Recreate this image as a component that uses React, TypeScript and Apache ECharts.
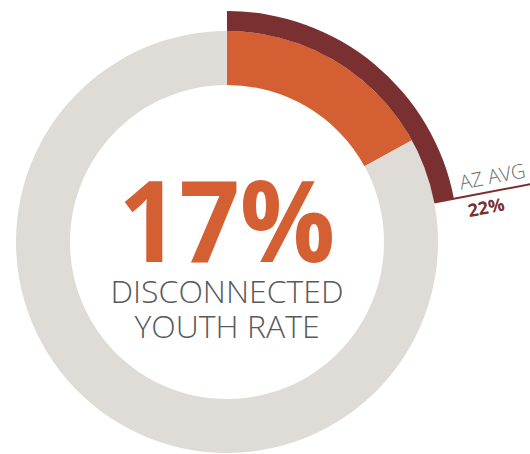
import React, { useEffect, useRef } from "react";
import * as echarts from "echarts";

const segmentNames = ["Disconnected youth", "Connected youth"];
const countyValues = [17, 83];
const avgValues = [22, 78];
const avgLabel = "AZ AVG";
const centerLines = ["DISCONNECTED", "YOUTH RATE"];

const ORANGE = "#d35f33";
const GREY = "#dfdcd7";
const DARK = "#7a2f30";
const TEXT = "#58595b";

export default function App() {
  const ref = useRef<HTMLDivElement>(null);
  useEffect(() => {
    const chart = echarts.init(ref.current!, undefined, { renderer: "svg" });
    const cx = 227;
    const cy = 242;
    const rIn = 157;
    const rOut = 211;
    const rAvg = 231;
    const total = avgValues[0] + avgValues[1];
    const deg = (avgValues[0] / total) * 360;
    const a = ((90 - deg) * Math.PI) / 180; // angle above horizontal
    const pt = (r: number, off: number) => [
      cx + r * Math.cos(a) - off * Math.sin(a),
      cy - r * Math.sin(a) - off * Math.cos(a),
    ];
    const p1 = pt(rOut, 0);
    const p2 = pt(330, 0);
    const tAvg = pt(273, 15);
    const tVal = pt(261, -14);

    chart.setOption({
      animation: false,
      series: [
        {
          type: "pie",
          center: [cx, cy],
          radius: [rIn, rOut],
          startAngle: 90,
          clockwise: true,
          silent: true,
          label: { show: false },
          labelLine: { show: false },
          itemStyle: { borderWidth: 0 },
          data: [
            { name: segmentNames[0], value: countyValues[0], itemStyle: { color: ORANGE } },
            { name: segmentNames[1], value: countyValues[1], itemStyle: { color: GREY } },
          ],
        },
        {
          type: "pie",
          center: [cx, cy],
          radius: [rOut, rAvg],
          startAngle: 90,
          clockwise: true,
          silent: true,
          label: { show: false },
          labelLine: { show: false },
          itemStyle: { borderWidth: 0 },
          data: [
            { name: avgLabel, value: avgValues[0], itemStyle: { color: DARK } },
            { name: "rest", value: avgValues[1], itemStyle: { color: "rgba(0,0,0,0)" } },
          ],
        },
      ],
      graphic: [
        {
          type: "line",
          shape: { x1: p1[0], y1: p1[1], x2: p2[0], y2: p2[1] },
          style: { stroke: DARK, lineWidth: 2 },
          silent: true,
        },
        {
          type: "text",
          x: tAvg[0],
          y: tAvg[1],
          rotation: a,
          style: {
            text: avgLabel,
            fill: "#6d6e71",
            font: '300 20px "Open Sans"',
            align: "center",
            verticalAlign: "middle",
          },
        },
        {
          type: "text",
          x: tVal[0],
          y: tVal[1],
          rotation: a,
          style: {
            text: `${avgValues[0]}%`,
            fill: DARK,
            font: 'bold 18px "Open Sans"',
            align: "center",
            verticalAlign: "middle",
          },
        },
        {
          type: "text",
          x: cx,
          y: 217,
          scaleX: 0.93,
          style: {
            text: `${countyValues[0]}%`,
            fill: ORANGE,
            font: 'bold 114px "Open Sans"',
            align: "center",
            verticalAlign: "middle",
          },
        },
        {
          type: "text",
          x: cx,
          y: 308,
          style: {
            text: centerLines.join("\n"),
            fill: TEXT,
            font: '300 32px "Open Sans"',
            lineHeight: 35,
            align: "center",
            verticalAlign: "middle",
          },
        },
      ],
    });
    return () => chart.dispose();
  }, []);
  return (
    <div
      ref={ref}
      style={{ position: "fixed", left: 0, top: 0, width: 530, height: 454, background: "#fff" }}
    />
  );
}
